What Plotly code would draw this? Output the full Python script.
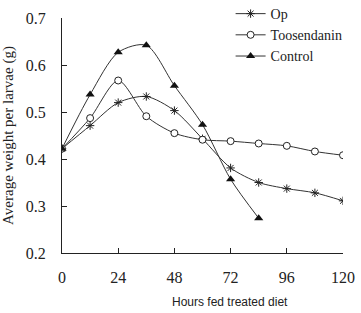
import plotly.graph_objects as go

hours = [0, 12, 24, 36, 48, 60, 72, 84, 96, 108, 120]
op = [0.422, 0.471, 0.520, 0.533, 0.503, 0.443, 0.381, 0.350, 0.337, 0.328, 0.311]
toosendanin = [0.422, 0.487, 0.567, 0.491, 0.455, 0.441, 0.438, 0.433, 0.428, 0.416, 0.408]
control_hours = [0, 12, 24, 36, 48, 60, 72, 84]
control = [0.422, 0.537, 0.627, 0.642, 0.556, 0.473, 0.357, 0.274]

x_ticks = [0, 24, 48, 72, 96, 120]
y_ticks = [0.2, 0.3, 0.4, 0.5, 0.6, 0.7]

serif = "Liberation Serif, Times New Roman, serif"
sans = "Liberation Sans, Arial, sans-serif"
lc = "#333333"

fig = go.Figure()
fig.add_trace(go.Scatter(x=hours, y=op, name="Op", mode="lines+markers",
                         line=dict(color=lc, width=1, shape="spline", smoothing=0.8),
                         marker=dict(symbol="asterisk-open", size=7, color="#222", line=dict(width=1, color="#222"))))
fig.add_trace(go.Scatter(x=hours, y=toosendanin, name="Toosendanin", mode="lines+markers",
                         line=dict(color=lc, width=1, shape="spline", smoothing=0.8),
                         marker=dict(symbol="circle", size=7, color="white", line=dict(width=1, color="#222"))))
fig.add_trace(go.Scatter(x=control_hours, y=control, name="Control", mode="lines+markers",
                         line=dict(color=lc, width=1, shape="spline", smoothing=0.8),
                         marker=dict(symbol="triangle-up", size=8, color="#111", line=dict(width=0))))

fig.update_layout(
    width=361, height=313,
    margin=dict(l=62, r=18, t=18, b=60, autoexpand=False),
    paper_bgcolor="white", plot_bgcolor="white",
    font=dict(family=serif, size=16, color="#222"),
    showlegend=True,
    legend=dict(x=0.6, y=1.085, xanchor="left", yanchor="top",
                bgcolor="rgba(0,0,0,0)", font=dict(family=serif, size=14),
                tracegroupgap=0, itemwidth=30),
    xaxis=dict(range=[0, 120], tickvals=x_ticks, ticktext=[str(v) for v in x_ticks],
               ticks="inside", ticklen=5, tickcolor="#222", showline=True, linecolor="#222",
               linewidth=1, showgrid=False, zeroline=False, ticklabelstandoff=10,
               automargin=False, tickfont=dict(family=serif, size=16)),
    yaxis=dict(range=[0.2, 0.7], tickvals=y_ticks, ticktext=[f"{v:.1f}" for v in y_ticks],
               ticks="inside", ticklen=5, tickcolor="#222", showline=True, linecolor="#222",
               linewidth=1, showgrid=False, zeroline=False, ticklabelstandoff=12,
               automargin=False,
               title=dict(text="Average weight per larvae (g)", font=dict(family=serif, size=15), standoff=12),
               tickfont=dict(family=serif, size=16)),
)
fig.add_annotation(text="Hours fed treated diet", xref="paper", yref="paper",
                   x=(230 - 62) / 281, y=-0.207, xanchor="center", yanchor="middle",
                   showarrow=False, font=dict(family=sans, size=12, color="#222"))
# remove the browser's default 8px body margin so the figure fills the window exactly
fig.write_html("out.html", config={"displayModeBar": False},
               post_script="document.body.style.margin='0px';document.body.style.overflow='hidden';")
